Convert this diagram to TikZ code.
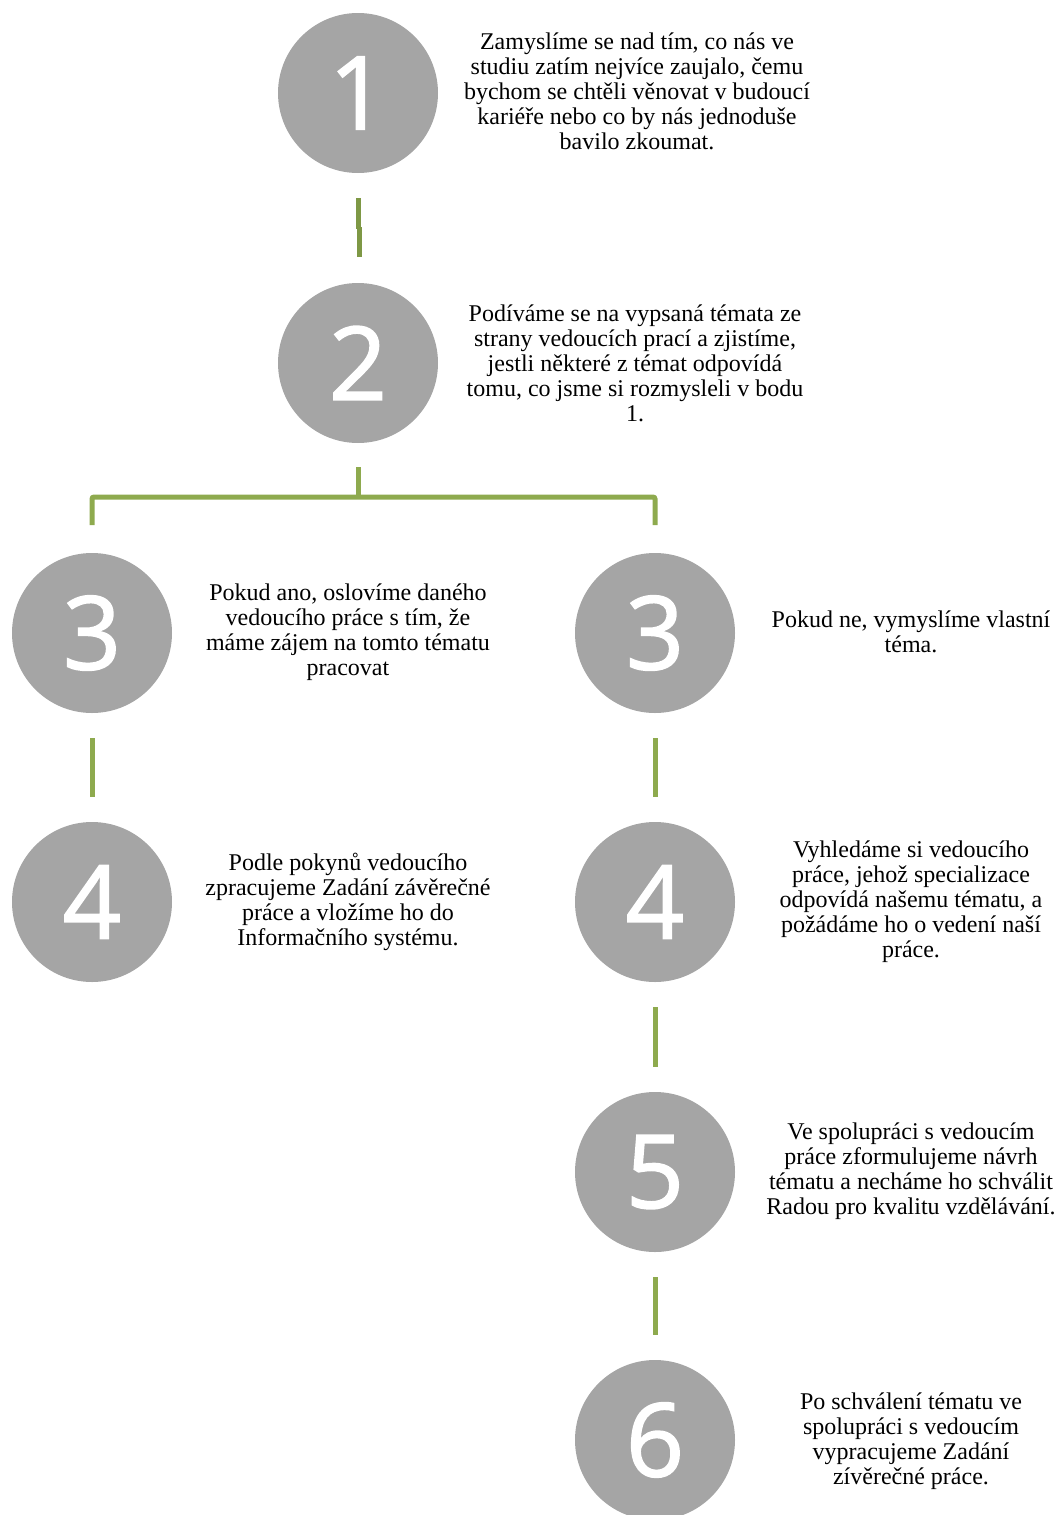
\documentclass[tikz,border=0pt]{standalone}
\usepackage{fontspec}
\setmainfont{Liberation Serif}
\newfontfamily\numfont[FakeBold=1.5]{Open Sans}
\definecolor{circgray}{HTML}{A5A5A5}
\definecolor{linegreen}{HTML}{8EAA4E}
\definecolor{darkgreen}{HTML}{7E9845}
\tikzset{
  stepcirc/.style={circle,fill=circgray,minimum size=160pt,inner sep=0pt,text=white,font=\numfont\fontsize{102}{102}\selectfont},
  desc/.style={align=center,font=\fontsize{24}{25}\selectfont,inner sep=0pt},
  conn/.style={draw=linegreen,line width=5pt},
}
\begin{document}
\begin{tikzpicture}[x=1pt,y=-1pt]
\useasboundingbox (0,0) rectangle (1055,1515);
\clip (0,0) rectangle (1055,1515);
% circles
\node[stepcirc] (c1) at (358,93) {1};
\node[stepcirc] (c2) at (358,363) {2};
\node[stepcirc] (c3l) at (92,633) {3};
\node[stepcirc] (c3r) at (655,633) {3};
\node[stepcirc] (c4l) at (92,902) {4};
\node[stepcirc] (c4r) at (655,902) {4};
\node[stepcirc] (c5) at (655,1172) {5};
\node[stepcirc] (c6) at (655,1440) {6};
% texts
\node[desc] (t1) at (637,91) {Zamyslíme se nad tím, co nás ve\\studiu zatím nejvíce zaujalo, čemu\\bychom se chtěli věnovat v budoucí\\kariéře nebo co by nás jednoduše\\bavilo zkoumat.};
\node[desc] (t2) at (635,363) {Podíváme se na vypsaná témata ze\\strany vedoucích prací a zjistíme,\\jestli některé z témat odpovídá\\tomu, co jsme si rozmysleli v bodu\\1.};
\node[desc] (t3l) at (348,632) {Pokud ano, oslovíme daného\\vedoucího práce s tím, že\\máme zájem na tomto tématu\\pracovat};
\node[desc] (t3r) at (911,632) {Pokud ne, vymyslíme vlastní\\téma.};
\node[desc] (t4l) at (348,902) {Podle pokynů vedoucího\\zpracujeme Zadání závěrečné\\práce a vložíme ho do\\Informačního systému.};
\node[desc] (t4r) at (911,902) {Vyhledáme si vedoucího\\práce, jehož specializace\\odpovídá našemu tématu, a\\požádáme ho o vedení naší\\práce.};
\node[desc] (t5) at (911,1171) {Ve spolupráci s vedoucím\\práce zformulujeme návrh\\tématu a necháme ho schválit\\Radou pro kvalitu vzdělávání.};
\node[desc] (t6) at (911,1441) {Po schválení tématu ve\\spolupráci s vedoucím\\vypracujeme Zadání\\zívěrečné práce.};
% connectors
\draw[draw=darkgreen,line width=5pt] ([yshift=-25pt]c1.south) -- ([yshift=-56pt]c1.south);
\draw[draw=darkgreen,line width=5pt] ([xshift=1.5pt,yshift=-54pt]c1.south) -- ([xshift=1.5pt,yshift=-84pt]c1.south);
\coordinate (br) at (358,497);
\draw[conn,rounded corners=2pt] (c3l.north |- 0,525) -- (c3l.north |- br) -- (c3r.north |- br) -- (c3r.north |- 0,525);
\draw[conn] ([yshift=-24pt]c2.south) -- (br);
\draw[conn] ([yshift=-25pt]c3l.south) -- ([yshift=25pt]c4l.north);
\draw[conn] ([yshift=-25pt]c3r.south) -- ([yshift=25pt]c4r.north);
\draw[conn] ([yshift=-25pt]c4r.south) -- ([yshift=25pt]c5.north);
\draw[conn] ([yshift=-25pt]c5.south) -- ([yshift=25pt]c6.north);
\end{tikzpicture}
\end{document}
